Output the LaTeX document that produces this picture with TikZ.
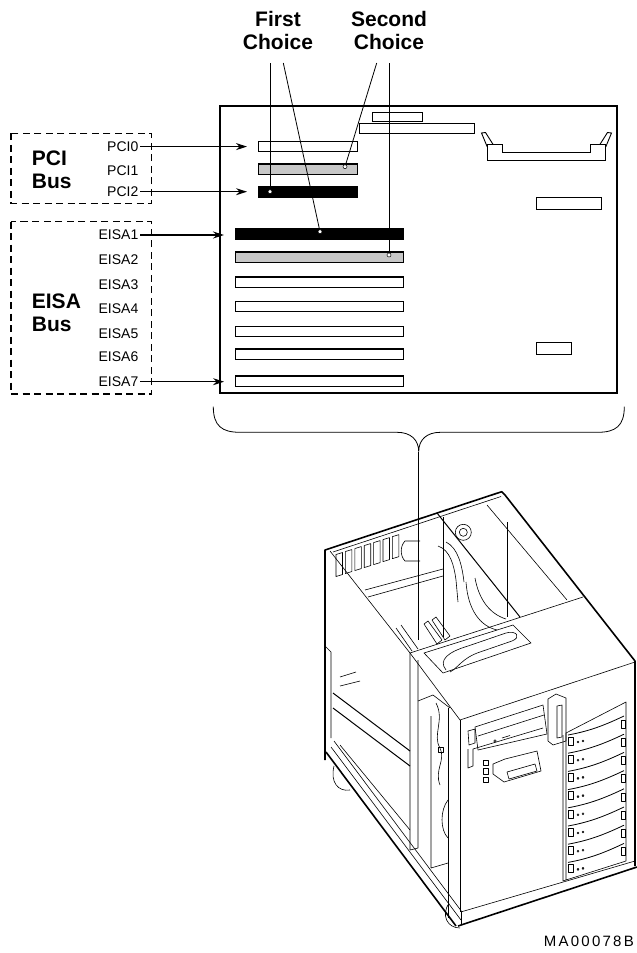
\documentclass[tikz,border=0pt]{standalone}
\usepackage{fontspec}
\setmainfont{Liberation Sans}
\newfontfamily\tagfont[LetterSpace=15]{Liberation Sans}
\usetikzlibrary{arrows.meta}

\begin{document}
\begin{tikzpicture}[x=1pt, y=-1pt, >={Stealth[length=11pt, width=7pt]},
		slot/.style={draw=black, line width=1.3pt, inner sep=0pt, minimum height=10.3pt},
		pcislot/.style={slot, minimum width=98.7pt},
		eisaslot/.style={slot, minimum width=167.7pt},
		bigtext/.style={font=\fontsize{21}{23}\selectfont\bfseries, inner sep=0pt},
		slotname/.style={font=\fontsize{14}{16}\selectfont, anchor=east, inner sep=1.5pt},
		arrow/.style={line width=1.1pt, ->, shorten >=11pt},
		leader/.style={line width=0.8pt},
		tipdot/.style={circle, draw, fill=white, line width=0.5pt, inner sep=0pt, minimum size=4pt},
		busbox/.style={dash pattern=on 7pt off 4.5pt, line width=1.2pt},
		boardpart/.style={line width=0.9pt},
		fine/.style={line width=0.6pt, line join=round},
		chassis/.style={line width=1.6pt, line join=round}]

\useasboundingbox (0,0) rectangle (637,953);

% choice labels
\node[bigtext, anchor=base] (first) at (278,26) {First};
\node[bigtext, anchor=base] (firstb) at (278,49.3) {Choice};
\node[bigtext, anchor=base] (second) at (389,26) {Second};
\node[bigtext, anchor=base] (secondb) at (389,49.3) {Choice};

% bus boxes
\draw[busbox] (11,133.3) rectangle (151.7,203.3);
\draw[busbox] (11,221.7) rectangle (151.7,394);
\node[bigtext, anchor=base west] (pcibus) at (31.7,165) {PCI};
\node[bigtext, anchor=base west] (pcibusb) at (31.7,188.3) {Bus};
\node[bigtext, anchor=base west] (eisabus) at (31.7,308.3) {EISA};
\node[bigtext, anchor=base west] (eisabusb) at (31.7,331.7) {Bus};

% system board
\draw[line width=1.4pt] (220,106) rectangle (617,393);
\draw[boardpart] (372.7,112) rectangle (422.3,121.3);
\draw[boardpart] (359.3,123.3) rectangle (474,133.3);
\draw[boardpart] (536.7,197.3) rectangle (601.7,209);
\draw[boardpart] (536.7,342.7) rectangle (571.3,354.3);
\draw[boardpart] (487.3,144.3) -- (487.3,160) -- (605.7,160) -- (605.7,144.3) -- (590.7,144.3)
	-- (590.7,152.3) -- (502.7,152.3) -- (502.7,144.3) -- cycle;
\draw[boardpart] (487.3,147) -- (481.5,133) -- (485.5,132.5) -- (493,144.3);
\draw[boardpart] (605.7,147) -- (611.5,133) -- (607.5,132.5) -- (600,144.3);

% slots
\node[pcislot] (pci0) at (308,146.5) {};
\node[pcislot, fill=black!22] (pci1) at (308,169.2) {};
\node[pcislot, fill=black] (pci2) at (308,192) {};
\node[slotname] (lpci0) at (140,146.6) {PCI0};
\node[slotname] (lpci1) at (140,170.3) {PCI1};
\node[slotname] (lpci2) at (140,191.7) {PCI2};
\foreach \i/\y/\ly/\c in {1/234/235/black, 2/257/259.3/black!22, 3/282/284.3/white,
		4/306.5/308.3/white, 5/331.5/333.3/white, 6/354/356.7/white, 7/381/381.7/white} {
	\node[eisaslot, fill=\c] (e\i) at (319.5,\y) {};
	\node[slotname] (le\i) at (140,\ly) {EISA\i};
}
\draw[arrow] (lpci0.east) -- (lpci0.east -| pci0.west);
\draw[arrow] (lpci2.east) -- (lpci2.east -| pci2.west);
\draw[arrow] (le1.east) -- (le1.east -| e1.west);
\draw[arrow] (le7.east) -- (le7.east -| e7.west);

% leaders
\coordinate (fc1) at (270,63);
\coordinate (fc2) at (283.3,63);
\coordinate (sc1) at (376.7,63);
\coordinate (sc2) at (389,63);
\node[tipdot] (d1) at (270,191.7) {};
\node[tipdot] (d2) at (320,231.7) {};
\node[tipdot] (d3) at (345,166.7) {};
\node[tipdot] (d4) at (389,255) {};
\draw[leader] (fc1) -- (d1);
\draw[leader] (fc2) -- (d2);
\draw[leader] (sc1) -- (d3);
\draw[leader] (sc2) -- (d4);

% brace
\draw[leader] (213.3,406.7) .. controls (213.3,426) and (222,432.3) .. (240,432.3) -- (397,432.3)
	.. controls (411,432.3) and (418.7,440) .. (418.7,451.7) coordinate (bracetip)
	.. controls (418.7,440) and (426.4,432.3) .. (440.4,432.3) -- (597.6,432.3)
	.. controls (615.6,432.3) and (624.3,426) .. (624.3,406.7);

% system unit
\draw[chassis] (325,760) -- (325,550) -- (501.7,491.7) -- (505,495) -- (635,661) -- (635,866);
\draw[fine] (333,552) -- (501,496.5);
\draw[fine] (325,646) -- (331,652) -- (331,738);
\draw[chassis] (326,752) -- (456,926);
\draw[fine] (331,747) -- (461,920);
\draw[fine] (334,741) -- (462,912);
\draw[fine] (334,766) .. controls (330,782) and (338,792) .. (350,790);
\draw[fine] (449,903) .. controls (441,915) and (447,928) .. (460,928);
\draw[chassis] (458,926) -- (637,867);
\draw[fine] (461.7,911.7) -- (635,861);
\draw[fine] (461.7,911.7) -- (461.7,925);
% left side
\draw[fine] (330,551) -- (410,653) -- (410,850) -- (418,848) -- (418,660);
\draw[line width=1pt] (333,693) -- (410,751);
\draw[line width=1pt] (333,708) -- (410,766);
\draw[fine] (340,677) -- (356,672);
\draw[fine] (340,686) -- (360,681);
\draw[fine] (340,745) -- (410,830);
% middle block
\draw[fine] (418,701) -- (433,695) -- (450,708);
\draw[fine] (431,716) -- (431,868) -- (448,863);
\draw[fine] (448,708) -- (448,918);
\draw[fine] (436,703) .. controls (445,720) and (432,735) .. (440,748) .. controls (446,760) and (434,770) .. (440,785);
\draw[fine] (438,747) rectangle (443,752);
\draw[fine] (448,800) .. controls (440,810) and (440,830) .. (448,838);
% front top
\draw[fine] (410,653) -- (583,597);
\draw[fine] (410,653) -- (460,720) -- (635,662);
\draw[line width=1pt] (460,720) -- (460,912);
\draw[fine] (424,653) -- (513,625) -- (531,643) -- (443,673) -- cycle;
\draw[fine] (446,670) .. controls (438,660) and (448,652) .. (468,646) -- (506,633)
	.. controls (516,630) and (522,637) .. (512,641) -- (480,652) .. controls (462,658) and (458,668) .. (450,672);
% interior
\foreach \k in {0,...,6} {
	\pgfmathsetmacro{\xa}{336+9.4*\k}
	\pgfmathsetmacro{\ya}{558-0.317*(\xa-325)}
	\draw[fine] (\xa,\ya) -- ++(6.5,-2) -- ++(0,22) -- ++(-6.5,2) -- cycle;
}
\draw[fine] (365,590) -- (443,569);
\draw[fine] (368,597) -- (443,576);
\draw[fine] (443,517) -- (443,637);
\draw[line width=1pt] (437,513) -- (520,617);
\draw[fine] (487,505) -- (567,600);
\draw[fine] (507,522) -- (507,617);
\draw[fine] (463.3,532.3) circle (8pt) (463.3,532.3) circle (4pt);
\draw[fine] (420,541) -- (405,541) .. controls (400,546) and (400,556) .. (405,561) -- (420,561);
\draw[fine] (438,546) .. controls (450,550) and (454,565) .. (456,580) -- (458,602);
\draw[fine] (446,542) .. controls (458,548) and (462,565) .. (464,582);
\draw[fine] (466,582) .. controls (468,610) and (480,626) .. (497,630);
\draw[fine] (475,578) .. controls (479,600) and (490,614) .. (506,619);
\draw[fine] (424,624) -- (428,621) -- (442,640) -- (437,644) -- cycle;
\draw[fine] (432,620) -- (436,617) -- (450,636) -- (445,640) -- cycle;
\draw[fine] (396,628) -- (412,651);
\draw[fine] (401,625) -- (418,649);
% front panel
\draw[fine] (475,727) -- (543,705) -- (547,734) -- (478,750) -- cycle;
\draw[fine] (478,736) -- (544,715);
\draw[fine] (495,741) circle (1.3pt);
\draw[fine] (502,738) -- (510,735.5);
\draw[fine] (468,731) -- (475,729) -- (475,743) -- (469,745) -- cycle;
\draw[fine] (468,749) -- (468,768) -- (473,766) -- (473,749) -- (543,728);
\draw[fine] (493,764) -- (505,759) -- (537,751) -- (541,771) -- (504,782) -- (493,774) -- cycle;
\draw[fine] (507,772) -- (535,764) -- (537,771) -- (509,779) -- cycle;
\foreach \y in {760,768.5,777} \draw[fine] (483,\y) rectangle ++(5,5.5);
\draw[fine] (548,699) -- (556,694) -- (566,698) -- (566,741) -- (553,745) -- (548,741) -- cycle;
\draw[fine] (557,706) -- (562,705) -- (562,737) -- (557,738) -- cycle;
\draw[fine] (566,733) -- (626,702) -- (626,861) -- (566,880) -- cycle;
\draw[fine] (563,735) -- (563,881) -- (566,880);
\foreach \k in {0,...,7} {
	\pgfmathsetmacro{\yl}{735+18.2*\k}
	\draw[line width=0.8pt] (568,\yl) .. controls (590,\yl-4) and (605,\yl-10) .. (624,\yl-19);
	\draw[fine] (568,\yl+2) rectangle ++(5,8);
	\draw[fine] (621,\yl-15) rectangle ++(4,8);
	\draw[fine] (578,\yl+7) circle (1pt) (583,\yl+6) circle (1pt);
}

% pointer into the unit
\coordinate (slotspot) at (418.7,640);
\draw[leader] (bracetip) -- (slotspot);

\node[anchor=base east, inner sep=0pt, font=\fontsize{15}{17}\selectfont\tagfont] (tag) at (634,946.7) {MA00078B};
\end{tikzpicture}
\end{document}
